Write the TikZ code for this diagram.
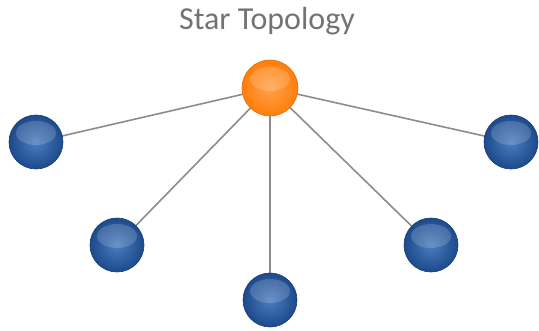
\documentclass[tikz,border=0pt]{standalone}
\usepackage{fontspec}
\setmainfont{Carlito}
\begin{document}
\begin{tikzpicture}[x=1pt,y=-1pt,
  link/.style={draw=linkgray,line width=1.6pt},
  bluenode/.style={circle,minimum size=54pt,inner sep=0pt,draw=blueedge,line width=0.6pt,
    shading=radial,inner color=bluein,outer color=blueout},
  hubnode/.style={circle,minimum size=56pt,inner sep=0pt,draw=orangeedge,line width=0.6pt,
    shading=radial,inner color=orangein,outer color=orangeout},
  gloss/.style={fill=white,fill opacity=0.16,draw=none},
  titletext/.style={text=titlegray,font=\fontsize{32}{36}\selectfont}]
\definecolor{linkgray}{HTML}{8C8C8C}
\definecolor{blueedge}{HTML}{1A3E70}
\definecolor{bluein}{HTML}{4C7DBE}
\definecolor{blueout}{HTML}{1C4A8C}
\definecolor{orangeedge}{HTML}{E07010}
\definecolor{orangein}{HTML}{FFA24A}
\definecolor{orangeout}{HTML}{FF7E0A}
\definecolor{titlegray}{HTML}{737373}
\useasboundingbox (0,0) rectangle (539,330);
\node[titletext] (title) at (267,21) {Star Topology};
\coordinate (hc) at (270,88);
\coordinate (c1) at (36,142);
\coordinate (c2) at (511,142);
\coordinate (c3) at (117,245);
\coordinate (c4) at (431,245);
\coordinate (c5) at (270,300);
\foreach \c in {c1,c2,c3,c4,c5} \draw[link] (hc) -- (\c);
\node[hubnode] (hub) at (hc) {};
\node[bluenode] (n1) at (c1) {};
\node[bluenode] (n2) at (c2) {};
\node[bluenode] (n3) at (c3) {};
\node[bluenode] (n4) at (c4) {};
\node[bluenode] (n5) at (c5) {};
\foreach \n in {hub,n1,n2,n3,n4,n5}
  \fill[gloss] ([yshift=9pt]\n.center) ellipse [x radius=20pt, y radius=12pt];
\end{tikzpicture}
\end{document}
